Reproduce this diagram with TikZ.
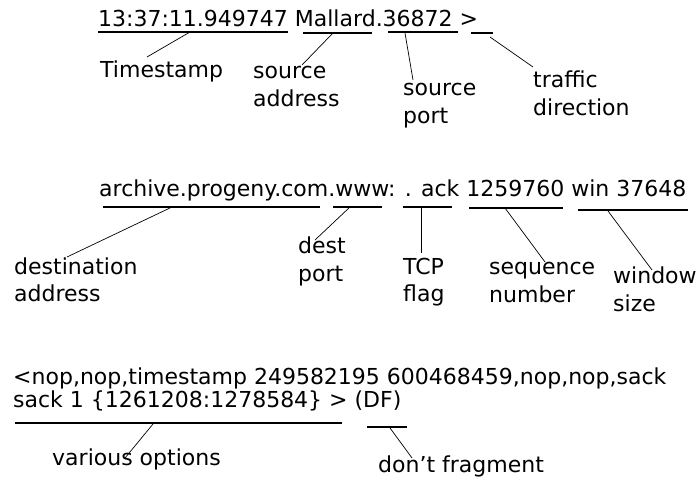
\documentclass[tikz,border=0pt]{standalone}
\usepackage{fontspec}
\setmainfont{DejaVu Sans}

\tikzset{txt/.style={anchor=base west, inner sep=0pt, align=left, font=\fontsize{22}{28}\selectfont},
         ul/.style={line width=1.3pt},
         lead/.style={line width=0.7pt}}

\begin{document}
\begin{tikzpicture}[x=1pt,y=-1pt]
\useasboundingbox (0,0) rectangle (699,478);
% tcpdump lines
\node[txt] (line1) at (98,27) {13:37:11.949747 Mallard.36872 >};
\node[txt] (line2) at (99,197) {archive.progeny.com.www: . ack 1259760 win 37648};
\node[txt, font=\fontsize{22}{23}\selectfont] (line3) at (13,407)
  {<nop,nop,timestamp 249582195 600468459,nop,nop,sack\\sack 1 \{1261208:1278584\} > (DF)};
% labels (two-line ones sit on their last line)
\node[txt] (ts)   at (100,78)  {Timestamp};
\node[txt] (srca) at (253,107) {source\\address};
\node[txt] (srcp) at (403,124) {source\\port};
\node[txt] (dir)  at (533,116) {traffic\\direction};
\node[txt] (dsta) at (14,302)  {destination\\address};
\node[txt] (dstp) at (298,282) {dest\\port};
\node[txt] (flag) at (403,302) {TCP\\flag};
\node[txt] (seq)  at (489,303) {sequence\\number};
\node[txt] (win)  at (613,312) {window\\size};
\node[txt] (opt)  at (52,465)  {various options};
\node[txt] (df)   at (378,472) {don't fragment};
% underlines
\coordinate (ts1) at (98,32);   \coordinate (ts2) at (288,32);
\coordinate (sa1) at (303,33);  \coordinate (sa2) at (372,33);
\coordinate (sp1) at (388,32);  \coordinate (sp2) at (458,32);
\coordinate (dr1) at (471,33);  \coordinate (dr2) at (493,33);
\coordinate (da1) at (103,207); \coordinate (da2) at (320,207);
\coordinate (dp1) at (333,207); \coordinate (dp2) at (382,207);
\coordinate (fl1) at (403,207); \coordinate (fl2) at (452,207);
\coordinate (sq1) at (469,208); \coordinate (sq2) at (563,208);
\coordinate (wn1) at (578,210); \coordinate (wn2) at (688,210);
\coordinate (op1) at (15,423);  \coordinate (op2) at (342,423);
\coordinate (df1) at (367,427); \coordinate (df2) at (407,427);
\draw[ul] (ts1) -- (ts2);
\draw[ul] (sa1) -- (sa2);
\draw[ul] (sp1) -- (sp2);
\draw[ul] (dr1) -- (dr2);
\draw[ul] (da1) -- (da2);
\draw[ul] (dp1) -- (dp2);
\draw[ul] (fl1) -- (fl2);
\draw[ul] (sq1) -- (sq2);
\draw[ul] (wn1) -- (wn2);
\draw[ul] (op1) -- (op2);
\draw[ul] (df1) -- (df2);
% leaders
\coordinate (tsm) at (190,32);
\coordinate (sam) at (333,33);
\coordinate (spm) at (405,33);
\coordinate (drm) at (490,37);
\coordinate (dam) at (172,207);
\coordinate (dpm) at (350,207);
\coordinate (flm) at (421,207);
\coordinate (sqm) at (505,208);
\coordinate (wnm) at (608,211);
\coordinate (opm) at (153,424);
\coordinate (dfm) at (390,428);
\draw[lead] (tsm) -- ([shift={(47,-21)}]ts.base west);
\draw[lead] (sam) -- ([shift={(49,-42)}]srca.base west);
\draw[lead] (spm) -- ([shift={(10,-44)}]srcp.base west);
\draw[lead] (drm) -- ([shift={(0,-49)}]dir.base west);
\draw[lead] (dam) -- ([shift={(53,-45)}]dsta.base west);
\draw[lead] (dpm) -- ([shift={(17,-42)}]dstp.base west);
\draw[lead] (flm) -- ([shift={(18,-49)}]flag.base west);
\draw[lead] (sqm) -- ([shift={(56,-41)}]seq.base west);
\draw[lead] (wnm) -- ([shift={(39,-42)}]win.base west);
\draw[lead] (opm) -- ([shift={(73,-7)}]opt.base west);
\draw[lead] (dfm) -- ([shift={(34,-14)}]df.base west);
\end{tikzpicture}
\end{document}
